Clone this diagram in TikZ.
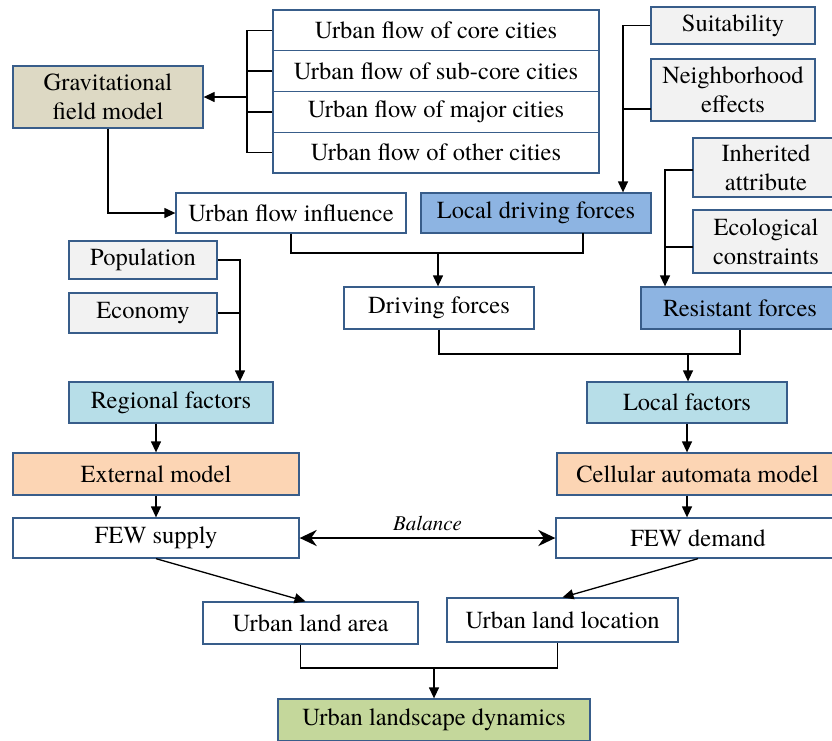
\documentclass[tikz,border=0pt]{standalone}
\usepackage{fontspec}
\newfontfamily\tnr{texgyretermes}[Extension=.otf,UprightFont=*-regular,ItalicFont=*-italic]
\usetikzlibrary{arrows.meta,calc}
\definecolor{bord}{RGB}{56,93,138}
\definecolor{tanf}{HTML}{DDD9C4}
\definecolor{bluef}{HTML}{8DB4E2}
\definecolor{lbluef}{HTML}{B7DEE8}
\definecolor{peachf}{HTML}{FCD5B4}
\definecolor{grayf}{HTML}{F2F2F2}
\definecolor{greenf}{HTML}{C4D79B}
\tikzset{
  bx/.style={draw=bord,line width=1.3pt,inner sep=0pt,align=center,
    font=\tnr\fontsize{24.5}{29}\selectfont},
  conn/.style={line width=1.3pt,black},
  arr/.style={conn,-{Triangle[length=11pt,width=10pt]}},
  barr/.style={line width=2.8pt,black,{Stealth[length=17pt,width=16pt]}-{Stealth[length=17pt,width=16pt]}},
}
\begin{document}
\begin{tikzpicture}[x=1pt,y=-1pt]
\useasboundingbox (0,0) rectangle (832,740);
\fill[white] (0,0) rectangle (832,740);
% nodes
\node[bx,fill=tanf,minimum width=190pt,minimum height=62pt] (grav) at (108,97) {Gravitational\\field model};
\node[bx,fill=white,minimum width=326pt,minimum height=40.75pt] (uf1) at (436,30.4) {Urban flow of core cities};
\node[bx,fill=white,minimum width=326pt,minimum height=40.75pt] (uf2) at (436,71.1) {Urban flow of sub-core cities};
\node[bx,fill=white,minimum width=326pt,minimum height=40.75pt] (uf3) at (436,111.9) {Urban flow of major cities};
\node[bx,fill=white,minimum width=326pt,minimum height=40.75pt] (uf4) at (436,152.6) {Urban flow of other cities};
\node[bx,fill=white,minimum width=230pt,minimum height=40pt] (ufi) at (291,213) {Urban flow influence};
\node[bx,fill=bluef,minimum width=230pt,minimum height=40pt] (ldf) at (536,213) {Local driving forces};
\node[bx,fill=grayf,minimum width=164pt,minimum height=37pt] (suit) at (733,25.5) {Suitability};
\node[bx,fill=grayf,minimum width=164pt,minimum height=62pt] (neigh) at (733,90) {Neighborhood\\effects};
\node[bx,fill=grayf,minimum width=146pt,minimum height=59pt] (inh) at (766,167.5) {Inherited\\attribute};
\node[bx,fill=grayf,minimum width=146pt,minimum height=63pt] (ecol) at (766,241.5) {Ecological\\constraints};
\node[bx,fill=bluef,minimum width=198pt,minimum height=42pt] (res) at (740,308) {Resistant forces};
\node[bx,fill=white,minimum width=190pt,minimum height=42pt] (drv) at (439,308) {Driving forces};
\node[bx,fill=grayf,minimum width=148pt,minimum height=38pt] (pop) at (143,260) {Population};
\node[bx,fill=grayf,minimum width=148pt,minimum height=40pt] (econ) at (143,313) {Economy};
\node[bx,fill=lbluef,minimum width=204pt,minimum height=41pt] (reg) at (171,402.5) {Regional factors};
\node[bx,fill=lbluef,minimum width=200pt,minimum height=41pt] (loc) at (687,402.5) {Local factors};
\node[bx,fill=peachf,minimum width=286pt,minimum height=42pt] (ext) at (156,474) {External model};
\node[bx,fill=peachf,minimum width=281pt,minimum height=42pt] (ca) at (697.5,474) {Cellular automata model};
\node[bx,fill=white,minimum width=286pt,minimum height=40pt] (fews) at (156,538) {FEW supply};
\node[bx,fill=white,minimum width=284pt,minimum height=40pt] (fewd) at (698,538) {FEW demand};
\node[bx,fill=white,minimum width=215pt,minimum height=42pt] (ula) at (310.5,623) {Urban land area};
\node[bx,fill=white,minimum width=231pt,minimum height=44pt] (ull) at (562.5,620) {Urban land location};
\node[bx,fill=greenf,minimum width=312pt,minimum height=42pt] (uld) at (434,720) {Urban landscape dynamics};
% bracket of urban flows
\coordinate (bk) at (247,97);
\draw[conn] (uf1.west) -- (uf1.west -| bk) -- (uf4.west -| bk) -- (uf4.west);
\draw[conn] (uf2.west) -- (uf2.west -| bk);
\draw[conn] (uf3.west) -- (uf3.west -| bk);
\draw[arr] (bk) -- (grav.east);
\draw[arr] (grav.south) |- (ufi.west);
% suitability / neighborhood
\coordinate (sj) at (623,25.5);
\coordinate (nt) at (651,109);
\draw[arr] (suit.west) -- (sj) -- (sj |- ldf.north);
\draw[conn] (nt) -- (sj |- nt);
% inherited / ecological
\coordinate (it) at (693,170);
\coordinate (et) at (693,247);
\coordinate (ij) at (665,170);
\draw[arr] (it) -- (ij) -- (ij |- res.north);
\draw[conn] (et) -- (ij |- et);
% join to driving forces
\coordinate (j1) at (438,253);
\draw[conn] (ufi.south) |- (j1) -| (583,233);
\draw[arr] (j1) -- (j1 |- drv.north);
% join to local factors
\coordinate (j2) at (688,354);
\draw[conn] (drv.south) |- (j2) -| (res.south);
\draw[arr] (j2) -- (j2 |- loc.north);
% population / economy
\coordinate (pj) at (240,260);
\draw[arr] (pop.east) -- (pj) -- (pj |- reg.north);
\draw[conn] (econ.east) -- (econ.east -| pj);
% vertical arrows
\draw[arr] (ext.north |- reg.south) -- (ext.north);
\draw[arr] (loc.south) -- (loc.south |- ca.north);
\draw[arr] (ext.south) -- (fews.north);
\draw[arr] (ca.south -| loc.south) -- (fewd.north -| loc.south);
% balance
\draw[barr] (fews.east) -- (fewd.west) node[midway,above=3pt,font=\tnr\itshape\fontsize{21}{24}\selectfont] {Balance};
% to land
\draw[arr] (fews.south) -- ($(ula.north)+(-5,0)$);
\draw[arr] (fewd.south) -- (ull.north);
% final join
\coordinate (j3) at (434,668);
\draw[conn] ($(ula.south)+(-10,0)$) |- (j3) -| ($(ull.south)+(-5,0)$);
\draw[arr] (j3) -- (uld.north);
\end{tikzpicture}
\end{document}
